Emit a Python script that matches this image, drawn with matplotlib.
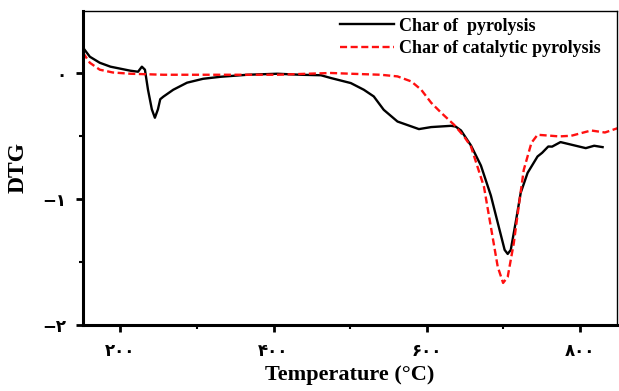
import matplotlib

matplotlib.use("Agg")
import matplotlib.pyplot as plt
from matplotlib.ticker import FixedLocator, FixedFormatter

# DTG curves (temperature in degC, DTG)
temp_pyro = [151, 160, 173, 187, 213, 223, 228, 232, 236, 241, 245, 249, 252, 256, 269, 287,
             308, 331, 366, 405, 435, 462, 475, 501, 518, 531, 544, 562, 590, 606, 632, 638,
             645, 658, 671, 684, 693, 702, 706, 710, 717, 723, 732, 745, 751, 759, 764, 775,
             786, 808, 819, 830]
dtg_pyro = [0.20, 0.127, 0.079, 0.048, 0.016, 0.008, 0.048, 0.024, -0.135, -0.29, -0.357, -0.29,
            -0.21, -0.19, -0.135, -0.079, -0.048, -0.032, -0.016, -0.008, -0.016, -0.02, -0.042,
            -0.082, -0.135, -0.188, -0.294, -0.387, -0.447, -0.431, -0.421, -0.427, -0.458,
            -0.577, -0.736, -0.974, -1.19, -1.405, -1.437, -1.405, -1.167, -0.952, -0.794,
            -0.664, -0.635, -0.585, -0.586, -0.55, -0.566, -0.598, -0.579, -0.59]

temp_cat = [151, 160, 173, 190, 213, 256, 321, 405, 475, 501, 540, 562, 580, 593, 606, 619,
            636, 649, 658, 675, 684, 693, 700, 706, 714, 721, 727, 737, 745, 763, 773, 789,
            815, 833, 850]
dtg_cat = [0.159, 0.079, 0.024, 0.002, -0.008, -0.016, -0.016, -0.016, -0.002, -0.008, -0.016,
           -0.029, -0.069, -0.135, -0.238, -0.317, -0.413, -0.506, -0.585, -0.905, -1.222,
           -1.54, -1.667, -1.619, -1.35, -1.032, -0.77, -0.556, -0.492, -0.5, -0.505, -0.5,
           -0.458, -0.474, -0.439]

x_ticks = [200, 400, 600, 800]
x_tick_labels = ["۲۰۰", "۴۰۰", "۶۰۰", "۸۰۰"]
y_ticks = [0, -1, -2]
y_tick_labels = ["۰", "−۱", "−۲"]

serif_bold = {"family": "Liberation Serif", "weight": "bold"}

fig = plt.figure(figsize=(6.19, 3.91), dpi=100)
ax = fig.add_axes([0.134, 0.169, 0.863, 0.803])

ax.plot(temp_pyro, dtg_pyro, color="black", lw=1.7, label="Char of  pyrolysis")
ax.plot(temp_cat, dtg_cat, color="#ff1010", lw=1.7, ls=(0, (3, 1.5)), label="Char of catalytic pyrolysis")

ax.set_xlim(151, 849)
ax.set_ylim(-2, 0.49)

ax.xaxis.set_major_locator(FixedLocator(x_ticks))
ax.xaxis.set_major_formatter(FixedFormatter(x_tick_labels))
ax.xaxis.set_minor_locator(FixedLocator([300, 500, 700]))
ax.yaxis.set_major_locator(FixedLocator(y_ticks))
ax.yaxis.set_major_formatter(FixedFormatter(y_tick_labels))
ax.yaxis.set_minor_locator(FixedLocator([-0.5, -1.5]))

ax.tick_params(axis="both", which="major", direction="out", length=5, width=2, labelsize=12, pad=7)
ax.tick_params(axis="both", which="minor", direction="out", length=3, width=1.5)
for lab in ax.get_xticklabels() + ax.get_yticklabels():
    lab.set_fontfamily(["DejaVu Sans"])
    lab.set_fontweight("bold")

ax.spines["left"].set_linewidth(2.2)
ax.spines["bottom"].set_linewidth(2.2)
ax.spines["top"].set_linewidth(1.0)
ax.spines["right"].set_linewidth(1.0)

ax.set_xlabel("Temperature (°C)", fontdict={**serif_bold, "size": 16}, labelpad=4)
ax.set_ylabel("DTG", fontdict={**serif_bold, "size": 17}, labelpad=10)

ax.legend(loc="upper right", bbox_to_anchor=(1.0, 1.03), frameon=False, handlelength=3.0,
          handletextpad=0.3, labelspacing=0.3,
          prop={"family": "Liberation Serif", "weight": "bold", "size": 13})

fig.savefig("out.png", dpi=100)
